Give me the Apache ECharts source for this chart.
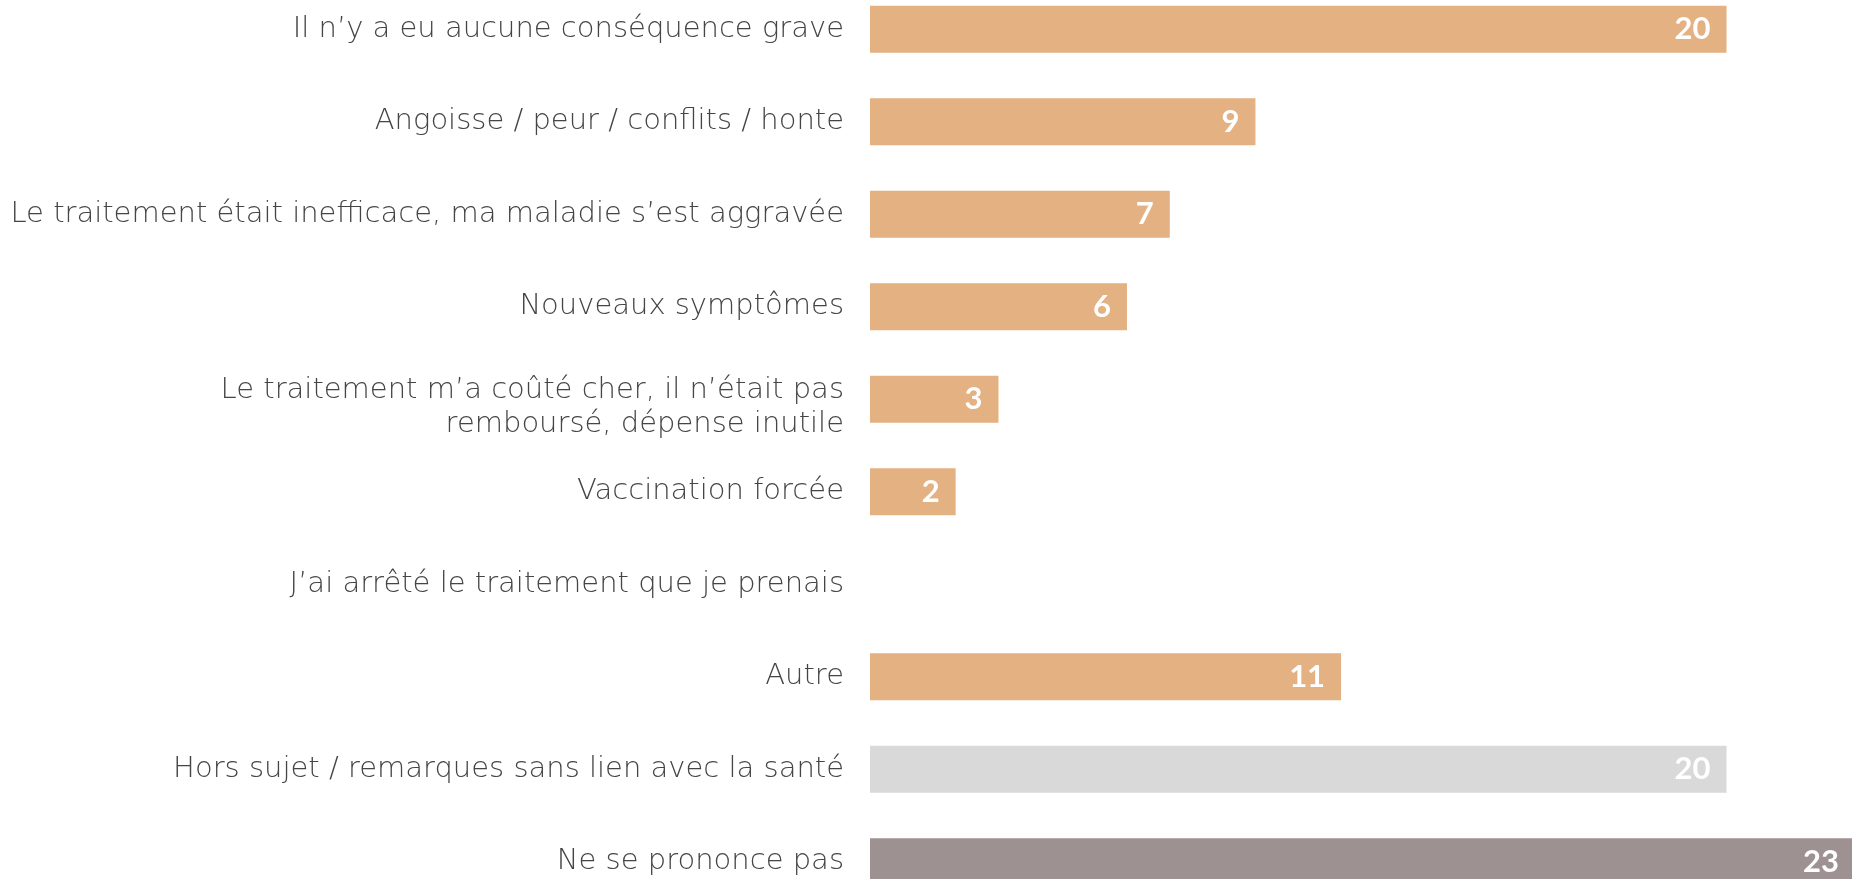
<!DOCTYPE html>
<html>
<head>
<meta charset="utf-8">
<title>Conséquences</title>
<script src="https://cdn.jsdelivr.net/npm/echarts@6/dist/echarts.min.js"></script>
<style>
    html, body { margin: 0; padding: 0; background: #fff; overflow: hidden; }
    /* the last bar runs off the bottom edge in the original slide */
    #chart { position: absolute; left: 0; top: -17px; width: 1855px; height: 925px; }
</style>
</head>
<body>
<div id="chart"></div>
<script>
    // categories, top to bottom
    var categories = [
        'Il n’y a eu aucune conséquence grave',
        'Angoisse / peur / conflits / honte',
        'Le traitement était inefficace, ma maladie s’est aggravée',
        'Nouveaux symptômes',
        'Le traitement m’a coûté cher, il n’était pas\nremboursé, dépense inutile',
        'Vaccination forcée',
        'J’ai arrêté le traitement que je prenais',
        'Autre',
        'Hors sujet / remarques sans lien avec la santé',
        'Ne se prononce pas'
    ]
    var values = [20, 9, 7, 6, 3, 2, 0, 11, 20, 23]
    var groups = ['reponse', 'reponse', 'reponse', 'reponse', 'reponse', 'reponse', 'reponse', 'reponse', 'horsSujet', 'nsp']

    var groupColors = {
        reponse: '#E3B182',
        horsSujet: '#D9D9D9',
        nsp: '#9E9191'
    }

    var chart = echarts.init(document.getElementById('chart'))
    var options = {
        animation: false,
        grid: {
            left: 870,
            right: 0,
            top: 0,
            bottom: 0,
            containLabel: false
        },
        xAxis: {
            type: 'value',
            min: 0,
            max: 23,
            show: false
        },
        yAxis: {
            type: 'category',
            inverse: true,
            data: categories,
            axisLine: { show: false },
            axisTick: { show: false },
            splitLine: { show: false },
            axisLabel: {
                margin: 26,
                fontSize: 29,
                lineHeight: 34,
                color: '#454545',
                fontFamily: '"DejaVu Sans", sans-serif',
                fontWeight: 300,
                formatter: function (val) {
                    if (val.indexOf('\n') < 0) {
                        return val
                    }
                    // two-line label sits a little low in the original: add a small spacer line
                    return '{s| }\n' + val.split('\n').map(function (l) {
                        return '{w|' + l + '}'
                    }).join('\n')
                },
                rich: {
                    s: { fontSize: 4, lineHeight: 16, height: 16 },
                    w: {
                        fontSize: 29,
                        lineHeight: 34,
                        color: '#454545',
                        fontFamily: '"DejaVu Sans", sans-serif',
                        fontWeight: 300
                    }
                }
            }
        },
        series: [{
            type: 'bar',
            barWidth: 47,
            data: values.map(function (v, i) {
                return {
                    value: v,
                    itemStyle: { color: groupColors[groups[i]] }
                }
            }),
            label: {
                show: true,
                position: 'insideRight',
                distance: 16,
                color: '#fff',
                fontSize: 31,
                fontWeight: 'bold',
                fontFamily: 'Lato, sans-serif',
                formatter: function (p) {
                    return p.value ? p.value : ''
                }
            }
        }]
    }
    chart.setOption(options)
</script>
</body>
</html>
